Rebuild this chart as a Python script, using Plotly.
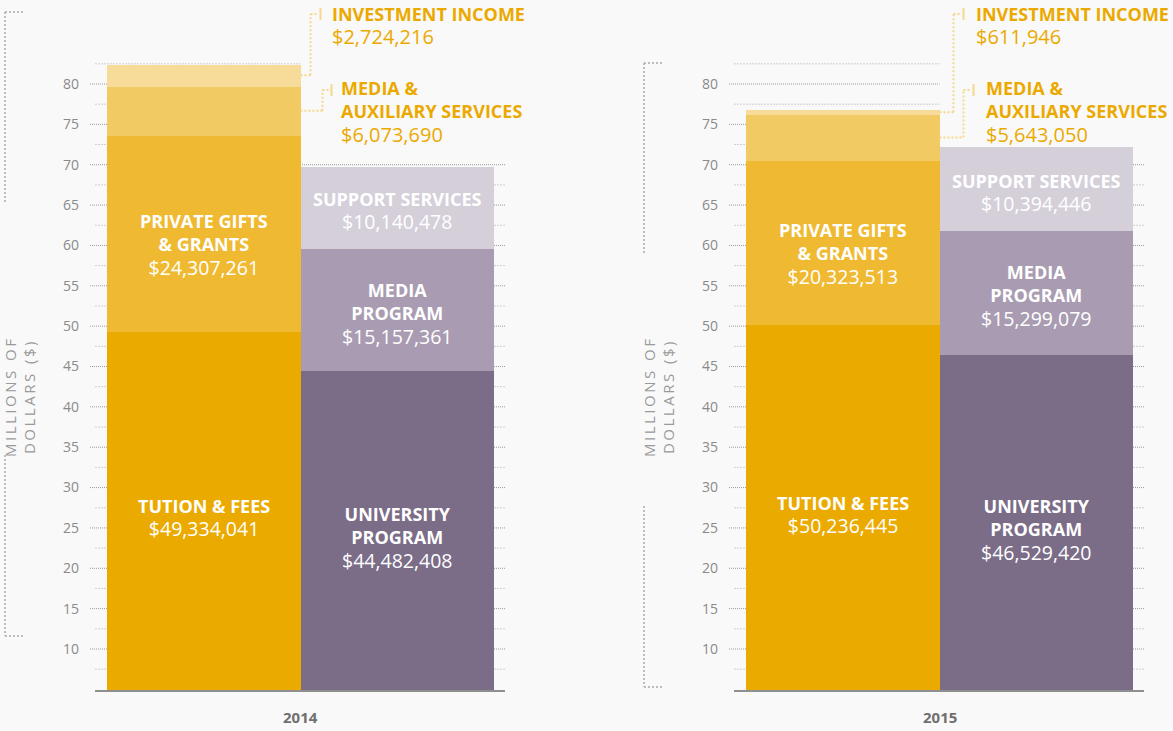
import plotly.graph_objects as go

# ---------------- data ----------------
years = ["2014", "2015"]
tuition = [49334041, 50236445]
gifts = [24307261, 20323513]
auxiliary = [6073690, 5643050]
investment = [2724216, 611946]
university = [44482408, 46529420]
media = [15157361, 15299079]
support = [10140478, 10394446]
y_ticks = [10, 15, 20, 25, 30, 35, 40, 45, 50, 55, 60, 65, 70, 75, 80]

# ---------------- style ----------------
W, H = 1173, 731
BG = "#F9F9F9"
FONT = "Open Sans, Lato, sans-serif"
C_TUI, C_GIF, C_AUX, C_INV = "#EBAA00", "#F0B932", "#F2CA64", "#F6DC98"
C_UNI, C_MED, C_SUP = "#7B6C88", "#A99CB2", "#D5CFDA"
C_GOLD = "#EBA900"
C_LEAD = "#F6D88C"

Y0, Y1 = 4.8, 85.0          # y range (millions)
XR = [-0.588, 1.557]         # x range (bar units)
PANEL_LEFT = [90, 729]       # px of axis left edge
PANEL_W = 415
K = (649 - 84) / 70.0        # px per million
UNIT = PANEL_W / (XR[1] - XR[0])


def px_y(v):
    return 84 + (80 - v) * K


def fx(px):
    return px / W


def fy(py):
    return 1 - py / H


fig = go.Figure()

for i, yr in enumerate(years):
    xa = "x" if i == 0 else "x2"
    ya = "y" if i == 0 else "y2"
    rev = [(tuition[i], C_TUI), (gifts[i], C_GIF), (auxiliary[i], C_AUX), (investment[i], C_INV)]
    exp = [(university[i], C_UNI), (media[i], C_MED), (support[i], C_SUP)]
    for v, c in rev:
        fig.add_trace(go.Bar(x=[0], y=[v / 1e6], width=1, marker=dict(color=c, line=dict(width=0)),
                             xaxis=xa, yaxis=ya, showlegend=False, hoverinfo="skip"))
    for v, c in exp:
        fig.add_trace(go.Bar(x=[1], y=[v / 1e6], width=1, marker=dict(color=c, line=dict(width=0)),
                             xaxis=xa, yaxis=ya, showlegend=False, hoverinfo="skip"))

layout = dict(
    width=W, height=H, margin=dict(l=0, r=0, t=0, b=0),
    paper_bgcolor=BG, plot_bgcolor="rgba(0,0,0,0)",
    barmode="stack", bargap=0, showlegend=False,
    font=dict(family=FONT, color="#888"),
)
for i in range(2):
    sx = "" if i == 0 else "2"
    left = PANEL_LEFT[i]
    layout["xaxis" + sx] = dict(domain=[fx(left), fx(left + PANEL_W)], range=XR, visible=False,
                                anchor="y" + sx, fixedrange=True)
    layout["yaxis" + sx] = dict(domain=[fy(px_y(Y0)), fy(px_y(Y1))], range=[Y0, Y1], anchor="x" + sx,
                                tickvals=y_ticks, ticktext=[str(t) for t in y_ticks],
                                showgrid=False, zeroline=False, showline=False, ticks="",
                                ticklabelstandoff=10,
                                tickfont=dict(family=FONT, size=14, color="#8a8a8a"), fixedrange=True)
fig.update_layout(**layout)

shapes = []
annotations = []

for i, yr in enumerate(years):
    xa = "x" if i == 0 else "x2"
    ya = "y" if i == 0 else "y2"
    minor_start = XR[0] + 5 / UNIT
    # gridlines
    for t in range(10, 85, 5):
        shapes.append(dict(type="line", xref=xa, yref=ya, x0=XR[0], x1=(XR[1] if t <= 70 else 0.5),
                           y0=t, y1=t, layer="below", line=dict(color="#9a9a9a", width=1, dash="1px,1px")))
    for t in [7.5 + 5 * k for k in range(16)]:
        shapes.append(dict(type="line", xref=xa, yref=ya, x0=minor_start, x1=(XR[1] if t <= 70 else 0.5),
                           y0=t, y1=t, layer="below", line=dict(color="#cfcfcf", width=1, dash="2px,1px")))
    # baseline
    shapes.append(dict(type="line", xref=xa, yref=ya + " domain", x0=minor_start, x1=XR[1], y0=0, y1=0,
                       layer="above", line=dict(color="#8f8f8f", width=2)))

    # labels inside bars
    def seg_label(x, base, top, title, value, shift=-7):
        lo = max(base, Y0)
        mid = (lo + top) / 2
        annotations.append(dict(
            xref=xa, yref=ya, x=x, y=mid, yshift=shift, showarrow=False,
            xanchor="center", yanchor="middle",
            text="<b>%s</b><br><span style='font-size:19.5px'>%s</span>" % (title, value),
            font=dict(family=FONT, size=18, color="white"), align="center"))

    t_, g_, a_, n_ = tuition[i] / 1e6, gifts[i] / 1e6, auxiliary[i] / 1e6, investment[i] / 1e6
    u_, m_, s_ = university[i] / 1e6, media[i] / 1e6, support[i] / 1e6
    seg_label(0, 0, t_, "TUTION &amp; FEES", "$" + format(tuition[i], ","))
    seg_label(0, t_, t_ + g_, "PRIVATE GIFTS<br>&amp; GRANTS", "$" + format(gifts[i], ","), -12)
    seg_label(1, 0, u_, "UNIVERSITY<br>PROGRAM", "$" + format(university[i], ","))
    seg_label(1, u_, u_ + m_, "MEDIA<br>PROGRAM", "$" + format(media[i], ","), -4)
    seg_label(1, u_ + m_, u_ + m_ + s_, "SUPPORT SERVICES", "$" + format(support[i], ","), -4)

    # year label
    annotations.append(dict(xref=xa, yref="paper", x=0.5, y=fy(717), xanchor="center", yanchor="middle",
                            showarrow=False, text="<b>%s</b>" % yr,
                            font=dict(family=FONT, size=15, color="#6f6f6f")))

    # leaders to external labels
    edge = PANEL_LEFT[i] + (0.5 - XR[0]) * UNIT
    if i == 0:
        inv_off, aux_off = (10, 20, 32), (22, 31, 41)
    else:
        inv_off, aux_off = (14, 24, 37), (24, 34, 47)
    inv_mid = px_y(t_ + g_ + a_ + n_ / 2)
    aux_mid = px_y(t_ + g_ + a_ / 2)
    val_span = "<span style='font-size:20px'>$%s</span>"
    for (elbow, tick, lab), ymid, ylab, txt, yc in [
        (inv_off, inv_mid, 14, "<b>INVESTMENT INCOME</b><br>" + val_span % format(investment[i], ","), 26),
        (aux_off, aux_mid, 90, "<b>MEDIA &amp;<br>AUXILIARY SERVICES</b><br>" + val_span % format(auxiliary[i], ","), 112),
    ]:
        ld = dict(color=C_LEAD, width=2, dash="2px,2px")
        shapes.append(dict(type="line", xref="paper", yref="paper", x0=fx(edge), x1=fx(edge + elbow),
                           y0=fy(ymid), y1=fy(ymid), line=ld))
        shapes.append(dict(type="line", xref="paper", yref="paper", x0=fx(edge + elbow), x1=fx(edge + elbow),
                           y0=fy(ymid), y1=fy(ylab), line=ld))
        shapes.append(dict(type="line", xref="paper", yref="paper", x0=fx(edge + elbow), x1=fx(edge + tick - 2),
                           y0=fy(ylab), y1=fy(ylab), line=ld))
        shapes.append(dict(type="line", xref="paper", yref="paper", x0=fx(edge + tick), x1=fx(edge + tick),
                           y0=fy(ylab - 6), y1=fy(ylab + 6), line=dict(color=C_LEAD, width=2)))
        annotations.append(dict(xref="paper", yref="paper", x=fx(edge + lab - 2), y=fy(yc), xanchor="left",
                                yanchor="middle", showarrow=False, align="left", text=txt,
                                font=dict(family=FONT, size=18, color=C_GOLD)))

    # axis title
    off = 0 if i == 0 else 639
    sp = "\u2009"
    l1 = sp.join("MILLIONS") + sp * 4 + sp.join("OF")
    l2 = sp.join("DOLLARS") + sp * 4 + sp.join("($)")
    for xc, txt in [(10 + off, l1), (29 + off, l2)]:
        annotations.append(dict(xref="paper", yref="paper", x=fx(xc), y=fy(398), xanchor="center",
                                yanchor="middle", showarrow=False,
                                textangle=-90, text=txt, font=dict(family=FONT, size=15, color="#9a9a9a")))

    # decorative bracket
    dy = 0 if i == 0 else 51
    bx = 5 + off
    bl = dict(color="#bdbdbd", width=2, dash="2px,2px")
    for seg in [(12, 202), (455, 636)]:
        shapes.append(dict(type="line", xref="paper", yref="paper", x0=fx(bx), x1=fx(bx),
                           y0=fy(seg[0] + dy), y1=fy(seg[1] + dy), line=bl))
    for yy in [12, 636]:
        shapes.append(dict(type="line", xref="paper", yref="paper", x0=fx(bx), x1=fx(bx + 18),
                           y0=fy(yy + dy), y1=fy(yy + dy), line=bl))

fig.update_layout(shapes=shapes, annotations=annotations)
fig.write_html("out.html", config={"displayModeBar": False},
               post_script="document.body.style.margin='0';document.body.style.overflow='hidden';")
